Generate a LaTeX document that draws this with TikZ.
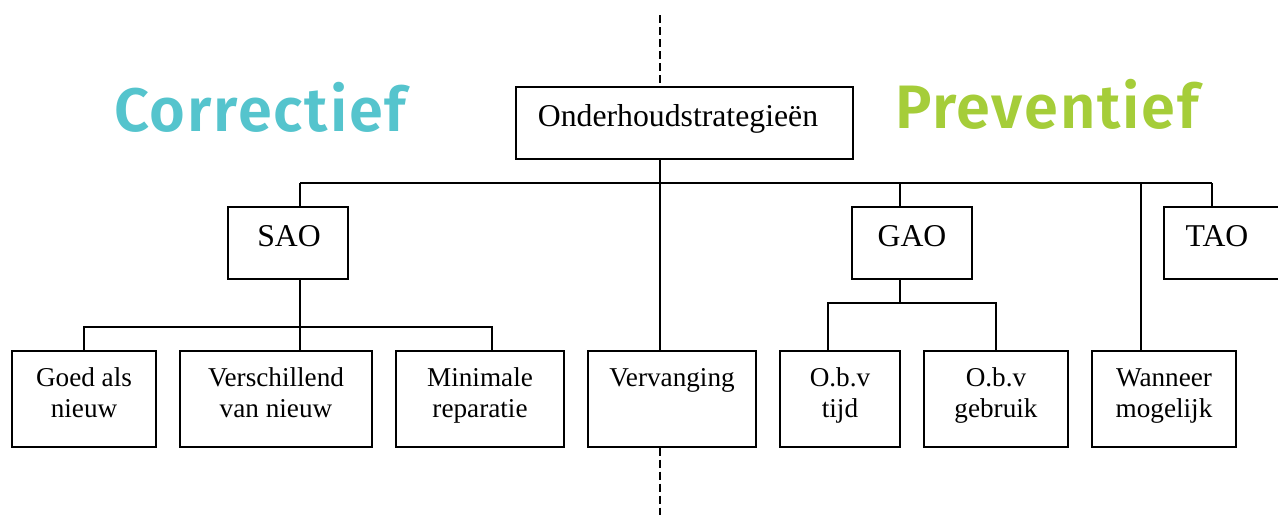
\documentclass[tikz,border=0pt]{standalone}
\usepackage{fontspec}
\setmainfont{Liberation Serif}
\newfontfamily\titlefont[LetterSpace=3]{Fira Sans SemiBold}
\usetikzlibrary{fit}
\definecolor{corrteal}{HTML}{55C4CD}
\definecolor{prevgreen}{HTML}{A5CD39}
\tikzset{
  box/.style={draw, line width=1.1pt, inner sep=0pt},
  wire/.style={draw, line width=1.1pt},
  divider/.style={draw, line width=0.8pt, dash pattern=on 6pt off 3pt},
  bigtxt/.style={font=\fontsize{23.8}{28}\selectfont, anchor=base, inner sep=0pt},
  smalltxt/.style={font=\fontsize{20.4}{23}\selectfont, anchor=base, inner sep=0pt, align=center},
  title/.style={font=\titlefont\fontsize{46}{52}\selectfont, anchor=base west, inner sep=0pt}
}
\begin{document}
\begin{tikzpicture}[x=0.75pt, y=-0.75pt]
\useasboundingbox (0,0) rectangle (1278,515);
% boxes
\node[box, fit={(516,87) (853,159)}] (root) {};
\node[box, fit={(228,207) (348,279)}] (sao) {};
\node[box, fit={(852,207) (972,279)}] (gao) {};
\node[box, fit={(1164,207) (1284,279)}] (tao) {};
\node[box, fit={(12,351) (156,447)}] (goed) {};
\node[box, fit={(180,351) (372,447)}] (versch) {};
\node[box, fit={(396,351) (564,447)}] (minim) {};
\node[box, fit={(588,351) (756,447)}] (verv) {};
\node[box, fit={(780,351) (900,447)}] (tijd) {};
\node[box, fit={(924,351) (1068,447)}] (gebr) {};
\node[box, fit={(1092,351) (1236,447)}] (wann) {};
% texts
\node[bigtxt] (troot) at (678,126.5) {Onderhoudstrategieën};
\node[bigtxt] (tsao) at (289,246.5) {SAO};
\node[bigtxt] (tgao) at (912,246.5) {GAO};
\node[bigtxt] (ttao) at (1217,246.5) {TAO};
\node[smalltxt] (tgoed) at (84,417) {Goed als\\nieuw};
\node[smalltxt] (tversch) at (276,417) {Verschillend\\van nieuw};
\node[smalltxt] (tminim) at (480,417) {Minimale\\reparatie};
\node[smalltxt] (tverv) at (672,386.5) {Vervanging};
\node[smalltxt] (ttijd) at (840,417) {O.b.v\\tijd};
\node[smalltxt] (tgebr) at (996,417) {O.b.v\\gebruik};
\node[smalltxt] (twann) at (1164,417) {Wanneer\\mogelijk};
\node[title, text=corrteal] (tcorr) at (114,131.5) {Correctief};
\node[title, text=prevgreen] (tprev) at (895,128.5) {Preventief};
% column x positions and junctions
\coordinate (xM) at (660,0);
\coordinate (xS) at (300,0);
\coordinate (xG) at (900,0);
\coordinate (xW) at (1141,0);
\coordinate (xT) at (1212,0);
\coordinate (busL) at (300,183);
\coordinate (busR) at (1212,183);
\coordinate (sbusY) at (0,327);
\coordinate (gbusY) at (0,303);
\coordinate (divTop) at (660,15);
\coordinate (divBot) at (660,515);
\coordinate (xMin) at (492,0);
\coordinate (xTijd) at (828,0);
% connectors
\draw[wire] (busL) -- (busR);
\draw[wire] (root.south -| xM) -- (verv.north -| xM);
\draw[wire] (busL) -- (sao.north -| xS);
\draw[wire] (xG |- busL) -- (gao.north -| xG);
\draw[wire] (xW |- busL) -- (wann.north -| xW);
\draw[wire] (busR) -- (tao.north -| xT);
% SAO children
\draw[wire] (sao.south -| xS) -- (xS |- sbusY);
\draw[wire] (goed.north) -- (goed.north |- sbusY) -- (xMin |- sbusY) -- (minim.north -| xMin);
\draw[wire] (xS |- sbusY) -- (versch.north -| xS);
% GAO children
\draw[wire] (gao.south -| xG) -- (xG |- gbusY);
\draw[wire] (tijd.north -| xTijd) -- (xTijd |- gbusY) -- (gebr.north |- gbusY) -- (gebr.north);
% divider
\draw[divider] (divTop) -- (root.north -| xM);
\draw[divider] (verv.south -| xM) -- (divBot);
\end{tikzpicture}
\end{document}
